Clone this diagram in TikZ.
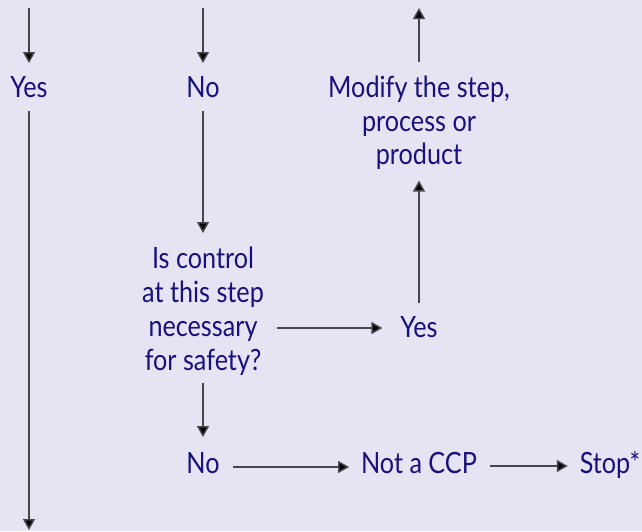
\documentclass[tikz,border=0pt]{standalone}
\usepackage{fontspec}
\setmainfont{Lato}[FakeStretch=0.86]
\usetikzlibrary{arrows.meta}
\definecolor{bgc}{RGB}{230,228,242}
\definecolor{txt}{RGB}{26,16,125}
\definecolor{lnc}{RGB}{70,70,75}
\tikzset{
  lbl/.style={inner sep=0pt, outer sep=0pt, text=txt, font=\fontsize{29.3}{34}\selectfont, align=center},
  arr/.style={draw=lnc, line width=1.5pt, -{Triangle[length=11pt,width=12pt,fill=black]}},
  ln/.style={draw=lnc, line width=1.5pt}
}
\begin{document}
\begin{tikzpicture}[x=1pt,y=-1pt]
\fill[bgc] (0,0) rectangle (642,531);
\useasboundingbox (0,0) rectangle (642,531);

\coordinate (topA) at (29,8);
\coordinate (topB) at (203,8);
\coordinate (topC) at (419,8);
\coordinate (botA) at (29,530);

\node[lbl, anchor=base] (yes1) at (29,97) {Yes};
\node[lbl, anchor=base] (no1) at (203,97) {No};
\node[lbl, anchor=north, font=\fontsize{29.3}{33.5}\selectfont] (modify) at (419,76) {Modify the step,\\process or\\product};
\node[lbl, anchor=north] (ctrl) at (203,247) {Is control\\at this step\\necessary\\for safety?};
\node[lbl, anchor=base] (yes3) at (419,337) {Yes};
\node[lbl, anchor=base] (no2) at (203,473) {No};
\node[lbl, anchor=base] (ccp) at (419,473) {Not a CCP};
\node[lbl, anchor=base] (stop) at (610,473) {Stop*};

% incoming arrows from the top
\draw[arr, shorten >=13pt] (topA) -- (yes1);
\draw[arr, shorten >=13pt] (topB) -- (no1);
\draw[arr, shorten <=14pt] (modify) -- (topC);

% left column
\draw[arr, shorten <=14pt] (yes1) -- (botA);

% middle column
\draw[arr, shorten <=14pt, shorten >=14pt] (no1) -- (ctrl);
\draw[arr, shorten <=7pt, shorten >=15pt] (ctrl) -- (no2);

% control -> yes
\coordinate (y3a) at ([yshift=9pt]yes3.base west);
\draw[arr, shorten <=13pt, shorten >=18pt] (ctrl.east |- y3a) -- (y3a);

% yes -> modify
\draw[arr, shorten <=13pt, shorten >=11pt] (yes3) -- (modify);

% bottom row
\coordinate (n2a) at ([yshift=6pt]no2.base east);
\coordinate (cca) at ([yshift=6pt]ccp.base west);
\draw[arr, shorten <=13pt, shorten >=12pt] (n2a) -- (cca);
\coordinate (ccb) at ([yshift=7pt]ccp.base east);
\coordinate (sta) at ([yshift=7pt]stop.base west);
\draw[arr, shorten <=13pt, shorten >=12pt] (ccb) -- (sta);
\end{tikzpicture}
\end{document}
